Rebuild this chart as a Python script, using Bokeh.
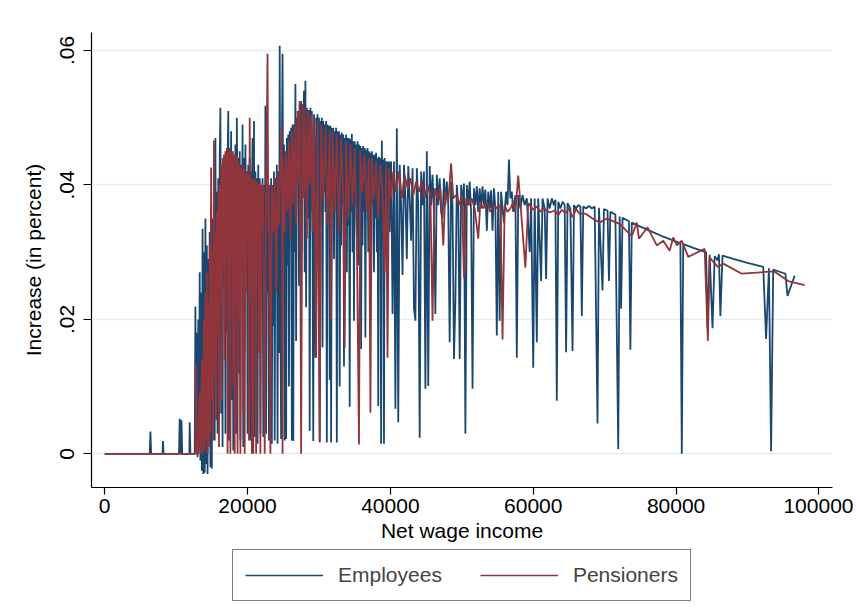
from bokeh.plotting import figure
from bokeh.layouts import column
from bokeh.models import (Range1d, FixedTicker, CustomJSTickFormatter,
                          NumeralTickFormatter, Legend, LegendItem)
from bokeh.embed import file_html
from bokeh.resources import INLINE

# ---------------- data ----------------
emp_income = [
    0, 6300, 6400, 6500, 8100, 8150, 8250, 10400, 10500, 10600,
    10750, 10850, 11850, 11900, 12000, 12600, 12700, 12800, 12900, 13000,
    13100, 13200, 13300, 13400, 13500, 13600, 13700, 13800, 13900, 14000,
    14100, 14200, 14300, 14400, 14500, 14600, 14700, 14800, 14900, 15000,
    15100, 15200, 15300, 15400, 15500, 15600, 15700, 15800, 15900, 16000,
    16100, 16200, 16300, 16400, 16500,
    16600, 16700, 16800, 16900, 17000, 17100, 17200, 17300, 17400, 17500,
    17600, 17700, 17800, 17900, 18000, 18100, 18200, 18300, 18400, 18500,
    18600, 18700, 18800, 18900, 19000, 19100, 19200, 19300, 19400, 19500,
    19600, 19700, 19800, 19900, 20000, 20100, 20200, 20300, 20400, 20500,
    20600, 20700, 20800, 20900, 21000, 21100, 21200, 21300, 21400, 21500,
    21600, 21700, 21800, 21900, 22000, 22100, 22200, 22300, 22400, 22500,
    22600, 22700, 22800, 22900, 23000, 23100, 23200, 23300, 23400, 23500,
    23600, 23700, 23800, 23900, 24000, 24100, 24200, 24300, 24400, 24500,
    24600, 24700, 24800, 24900, 25000, 25100, 25200, 25300, 25400, 25500,
    25600, 25700, 25800, 25900, 26000, 26100, 26200, 26300, 26400, 26500,
    26600, 26700, 26800, 26900, 27000, 27100, 27200, 27300, 27400, 27500,
    27600, 27700, 27800, 27900, 28000, 28100, 28200, 28300, 28400, 28500,
    28600, 28700, 28800, 28900, 29000, 29100, 29200, 29300, 29400, 29500,
    29600, 29700, 29800, 29900, 30000, 30100, 30200, 30300, 30400, 30500,
    30600, 30700, 30800, 30900, 31000, 31100, 31200, 31300, 31400, 31500,
    31600, 31700, 31800, 31900, 32000, 32100, 32200, 32300, 32400, 32500,
    32600, 32700, 32800, 32900, 33000, 33100, 33200, 33300, 33400, 33500,
    33600, 33700, 33800, 33900, 34000, 34100, 34200, 34300, 34400, 34500,
    34600, 34700, 34800, 34900, 35000, 35100, 35200, 35300, 35400, 35500,
    35600, 35700, 35800, 35900, 36000, 36100, 36200, 36300, 36400, 36500,
    36600, 36700, 36800, 36900, 37000, 37100, 37200, 37300, 37400, 37500,
    37600, 37700, 37800, 37900, 38000, 38100, 38200, 38300, 38400, 38500,
    38600, 38700, 38800, 38900, 39000, 39100, 39200, 39300, 39400, 39500,
    39600, 39700, 39800, 39900, 40000,
    40100, 40300, 40500, 40700, 40900, 41100, 41300, 41500, 41700, 41900,
    42100, 42300, 42500, 42700, 42900, 43100, 43300, 43500, 43700, 43900,
    44100, 44300, 44500, 44700, 44900, 45100, 45300, 45500, 45700, 45900,
    46100, 46300, 46500, 46700, 46900, 47100, 47300, 47500, 47700, 47900,
    48100, 48300, 48500, 48700, 48900, 49100, 49300, 49500, 49700, 49900,
    50100, 50300, 50500, 50700, 50900, 51100, 51300, 51500, 51700, 51900,
    52100, 52300, 52500, 52700, 52900, 53100, 53300, 53500, 53700, 53900,
    54100, 54300, 54500, 54700, 54900, 55100, 55300, 55500, 55700, 55900,
    56200, 56400, 56600, 56800, 57000, 57200, 57500, 57700, 57900, 58200,
    58500, 58800, 59100, 59500, 59700, 60000, 60200, 60500, 60700, 61100,
    61300, 61600, 61800, 62000, 62300, 62600, 62900, 63100, 63300, 63500,
    63800, 64100, 64400, 64600, 64800, 65200, 65500, 65700, 66000, 66300,
    66600, 66800, 67000, 67400, 67800, 68200, 68600, 69000, 69200, 69700,
    69900,
    70400, 70600, 70800, 71500, 71900, 72100, 72300, 72500, 73400, 73600,
    73800, 75000, 76500, 78000, 79500, 80600, 80800, 81000, 82500, 84200,
    84400, 84700, 85100, 85400, 85800, 86000, 86200, 86500, 88000, 90000,
    92200, 92600, 93000, 93300, 93600, 95000, 95300, 95600, 96600,
]
emp_increase = [
    0, 0, .0033, 0, 0, .0019, 0, 0, .0052, 0,
    .0050, 0, 0, .0047, 0, 0, .0219, .0005, .018, -.0005,
    .020, .001, .027, -.001, .024, -.0025, .0335, -.003, .030, -.0028,
    .035, -.0015, .031, -.003, .029, .004, .033, -.002, .037, -.0022,
    .035, .009, .038, .002, .047, .014, .039, .003, .041, .011,
    .044, .0515, .006, .042, .001,
    .043, .025, .044, .003, .045, .018, .043, .051, .002, .044,
    .030, .048, .008, .045, .0005, .044, .020, .046, .003, .050,
    .035, .044, .012, .045, .002, .043, .027, .049, .001, .044,
    .015, .046, .033, .042, .003, .043, .022, .044, .002, .042,
    .038, .047, .010, .0495, .0025, .042, .028, .041, .0015, .043,
    .017, .041, .003, .040, .032, .041, .0025, .040, .013, .0518,
    .003, .040, .024, .0395, .002, .040, .030, .041, .0015, .040,
    .019, .042, .002, .041, .034, .043, .0015, .042, .015, .0607,
    .022, .0022, .045, .0595, .030, .046, .002, .045, .0022, .047,
    .028, .0475, .010, .048, .036, .0485, .002, .049, .0019, .049,
    .030, .055, .0168, .050, .040, .051, .025, .052, .038, .0525,
    .030, .052, .042, .054, .027, .0555, .0218, .0515, .035, .051,
    .051, .0034, .0515, .036, .051, .030, .0019, .0505, .034, .0143,
    .050, .038, .0505, .033, .050, .0019, .0495, .036, .050, .0158,
    .0495, .039, .049, .036, .0495, .0017, .049, .035, .0488, .011,
    .0488, .0017, .0485, .037, .0485, .029, .048, .038, .0485, .0017,
    .048, .036, .048, .010, .0475, .031, .0478, .037, .0475, .013,
    .047, .036, .0475, .027, .047, .034, .047, .007, .0468, .036,
    .0476, .030, .0465, .0198, .0465, .037, .046, .033, .0465, .028,
    .046, .038, .0458, .0156, .0455, .031, .0458, .036, .0455, .0173,
    .0452, .038, .0455, .030, .045, .036, .0448, .026, .045, .037,
    .0445, .027, .0445, .035, .0448, .030, .044, .0071, .0442, .036,
    .044, .0015, .0466, .032, .0438, .0015, .044, .037, .0435, .030,
    .0435, .036, .0435, .033, .043,
    .0435, .0208, .0435, .0067, .0484, .0047, .043, .037, .0266, .043,
    .038, .029, .0428, .038, .0317, .0425, .0216, .0198, .0425, .037,
    .0024, .042, .037, .042, .0097, .045, .0101, .0428, .037, .0415,
    .036, .0208, .0415, .037, .041, .036, .035, .041, .037, .0405,
    .037, .0166, .0405, .037, .0141, .0228, .040, .037, .0141, .040,
    .037, .0402, .003, .040, .037, .0405, .036, .0097, .0395, .037,
    .0398, .036, .0395, .0365, .0398, .037, .0393, .0332, .039, .0365,
    .0392, .0332, .0395, .0365, .0176, .039, .0198, .039, .0365, .0344,
    .039, .037, .0438, .038, .039, .036, .0385, .0143, .0385, .0365,
    .0385, .037, .038, .030, .038, .0128, .038, .0166, .038, .0257,
    .038, .0365, .026, .038, .0365, .038, .037, .0378, .0079, .0375,
    .0365, .0375, .037, .0151, .0373, .0365, .0153, .037, .0365, .037,
    .0368, .0205, .0368, .0365, .0369, .0365, .0368, .0045, .0366, .0243,
    .0364,
    .0362, .0257, .036, .0356, .0007, .0353, .0216, .0351, .0346, .0155,
    .0344, .0338, .0331, .0324, .0318, .0313, 0, .0312, .0306, .030,
    .0187, .0296, .0187, .0294, .0288, .0297, .0205, .0295, .029, .0284,
    .0278, .0171, .0276, .0004, .0274, .0269, .0268, .0235, .0265,
]

pen_income = [
    0, 12700, 12800, 12900, 13100, 13300, 13400, 13600, 13700, 13900,
    14000, 14100, 14200, 14300, 14400, 14500, 14600, 14700, 14800, 14900,
    15000, 15100, 15200, 15300, 15400, 15500, 15600, 15700, 15800, 15900,
    16000, 16100, 16200, 16300, 16400, 16500, 16600, 16700, 16800, 16900,
    17000, 17100, 17200, 17300, 17400, 17500, 17600, 17700, 17800, 17900,
    18000, 18100, 18200, 18300, 18400, 18500, 18600, 18700, 18800, 18900,
    19000, 19100, 19200, 19300, 19400, 19500, 19600, 19700, 19800, 19900,
    20000, 20100, 20200, 20300, 20400, 20500, 20600, 20700, 20800, 20900,
    21000, 21100, 21200, 21300, 21400, 21500, 21600, 21700, 21800, 21900,
    22000, 22200, 22400, 22600, 22800, 22900, 23000, 23200, 23400, 23600,
    23800, 24000, 24200, 24400, 24600, 24800, 24900, 25000, 25200, 25400,
    25600, 25800, 26000, 26200, 26400, 26600, 26800, 27000, 27200, 27300,
    27500, 27700, 27900, 28100, 28300, 28500, 28700, 28900, 29100, 29300,
    29600, 29800, 30100, 30300, 30600, 30900, 31200, 31500, 31700, 31900,
    32200, 32500, 32800, 33100, 33400, 33600, 33800, 34100, 34400, 34700,
    35000, 35300, 35600, 35800, 36100, 36400, 36700, 37000, 37200, 37400,
    37700, 38000, 38300, 38600, 38900, 39200, 39400, 39600, 39800, 40100,
    40400, 40800, 41200, 41600, 42000, 42400, 42800, 43200, 43600, 44000,
    44400, 44800, 45200, 45600, 45900, 46200, 46600, 47000, 47400, 47700,
    48100, 48500, 48800, 49200, 49600, 50000, 50300, 50600, 51000, 51400,
    51800, 52300, 52600, 53000, 53500, 54000, 54500, 55000, 55400, 55700,
    56000, 56400, 56800, 57200, 57500, 57900, 58900, 59300, 60000, 60500,
    61000, 61500, 62300, 63000, 63500, 64000, 64500, 65000, 65500, 66000,
    66500, 67000, 67500, 68300, 69300, 70300, 72100, 73800, 74500, 74800,
    76000, 77300, 78200, 79100, 79600, 80100, 80800, 81700, 84000, 84450,
    84700, 85850, 86600, 89200, 93100, 93800, 95700, 98000,
]
pen_increase = [
    0, 0, .0134, 0, 0, .009, 0, .014, 0, .020,
    .0005, .024, .002, .027, 0, .022, .001, .031, .003, .0426,
    .008, .030, .002, .0466, .012, .033, .005, .036, .018, .039,
    .001, .040, .022, .043, .008, .044, .028, .0445, .014, .045,
    .030, .0455, 0, .045, .024, .0455, 0, .045, .033, .045,
    .010, .0445, 0, .044, .026, .0445, 0, .0435, .020, .043,
    0, .0425, .030, .043, .006, .0425, 0, .042, .024, .042,
    .035, .0415, .002, .050, .030, .041, 0, .041, 0, .0405,
    .028, .041, 0, .0405, .033, .040, .015, .0405, 0, .040,
    .034, .040, 0, .0395, .0595, .033, .040, 0, .040, .033,
    .041, .024, .042, .034, .043, .0488, 0, .044, .033, .045,
    .036, .0465, .032, .048, .037, .049, .034, .051, .040, .0525,
    0, .052, .038, .0515, .032, .051, .040, .0505, .033, .050,
    .0143, .0495, .0017, .049, .038, .0485, .034, .048, .0198, .048,
    .036, .0475, .033, .047, .038, .0158, .0465, .035, .046, .037,
    .0455, .032, .0014, .045, .039, .0445, .036, .044, .0061, .044,
    .038, .0435, .035, .043, .039, .027, .043, .0143, .0425, .038,
    .042, .039, .042, .038, .0415, .0395, .041, .0385, .0405, .039,
    .0405, .038, .040, .0385, .0198, .0395, .038, .0395, .031, .039,
    .0375, .0432, .038, .0385, .037, .0385, .0262, .038, .037, .038,
    .0365, .032, .0375, .0365, .0375, .036, .037, .0365, .037, .017,
    .037, .036, .0365, .0375, .036, .0414, .0277, .0373, .0363, .0368,
    .036, .0365, .0359, .0362, .0355, .0363, .0358, .0365, .0352, .0364,
    .0357, .0358, .0356, .035, .0344, .035, .0342, .0324, .0344, .032,
    .0337, .031, .0317, .0302, .0322, .031, .0317, .0293, .0305, .0168,
    .0292, .0278, .0283, .0268, .0271, .0271, .0257, .0251,
]

x_ticks = [0, 20000, 40000, 60000, 80000, 100000]
y_ticks = [0, 0.02, 0.04, 0.06]
series_names = ["Employees", "Pensioners"]
series_colors = ["#1a476f", "#90353b"]

assert len(emp_income) == len(emp_increase), (len(emp_income), len(emp_increase))
assert len(pen_income) == len(pen_increase), (len(pen_income), len(pen_increase))

# ---------------- main plot ----------------
FONT = "Liberation Sans"
FS = "21px"

p = figure(frame_width=741, frame_height=455, output_backend="svg",
           toolbar_location=None,
           x_range=Range1d(-1850, 101900), y_range=Range1d(-0.00501, 0.06268),
           min_border_left=91, min_border_right=21, min_border_top=32,
           min_border_bottom=62)
p.outline_line_color = None
p.background_fill_color = "white"
p.border_fill_color = "white"

p.xgrid.visible = False
p.ygrid.grid_line_color = "#e6edf0"
p.ygrid.grid_line_width = 1.5

for ax in (p.xaxis[0], p.yaxis[0]):
    ax.axis_line_color = "black"
    ax.axis_line_width = 1.2
    ax.major_tick_line_color = "black"
    ax.major_tick_line_width = 1.2
    ax.major_tick_in = 0
    ax.minor_tick_line_color = None
    ax.major_label_text_font = FONT
    ax.major_label_text_font_size = FS
    ax.major_label_text_color = "black"
    ax.axis_label_text_font = FONT
    ax.axis_label_text_font_size = FS
    ax.axis_label_text_font_style = "normal"
    ax.axis_label_text_color = "black"

p.xaxis.ticker = FixedTicker(ticks=x_ticks)
p.xaxis.formatter = NumeralTickFormatter(format="0")
p.xaxis.major_tick_out = 7
p.xaxis.major_label_standoff = 4
p.xaxis.axis_label = "Net wage income"
p.xaxis.axis_label_standoff = 3

p.yaxis.ticker = FixedTicker(ticks=y_ticks)
p.yaxis.formatter = CustomJSTickFormatter(
    code="return tick == 0 ? '0' : tick.toFixed(2).replace(/^0/, '');")
p.yaxis.major_label_orientation = "vertical"
p.yaxis.major_tick_out = 8
p.yaxis.major_label_standoff = 9
p.yaxis.axis_label = "Increase (in percent)"
p.yaxis.axis_label_standoff = 13

p.line(emp_income, emp_increase, line_color=series_colors[0], line_width=1.8)
p.line(pen_income, pen_increase, line_color=series_colors[1], line_width=1.8)

# ---------------- legend strip below the plot ----------------
# the key renderers carry the same series, but their view range lies above
# the data, so only the legend box shows in this strip
leg = figure(width=853, height=67, output_backend="svg", toolbar_location=None,
             x_axis_type=None, y_axis_type=None,
             x_range=Range1d(-1850, 101900), y_range=Range1d(1, 2),
             min_border_left=0, min_border_right=0, min_border_top=0,
             min_border_bottom=0)
leg.outline_line_color = None
leg.xgrid.visible = False
leg.ygrid.visible = False
key_emp = leg.line(emp_income, emp_increase, line_color=series_colors[0], line_width=1.6)
key_pen = leg.line(pen_income, pen_increase, line_color=series_colors[1], line_width=1.6)
legend = Legend(items=[LegendItem(label=series_names[0], renderers=[key_emp]),
                       LegendItem(label=series_names[1], renderers=[key_pen])],
                orientation="horizontal", location=(141, 15),
                border_line_color="black", border_line_width=1,
                padding=12, spacing=38, glyph_width=78, glyph_height=26,
                label_height=26, label_standoff=15, margin=0,
                label_text_font=FONT, label_text_font_size=FS)
leg.add_layout(legend, "center")

layout = column(p, leg, spacing=0)
open("out.html", "w").write(file_html(layout, INLINE))
